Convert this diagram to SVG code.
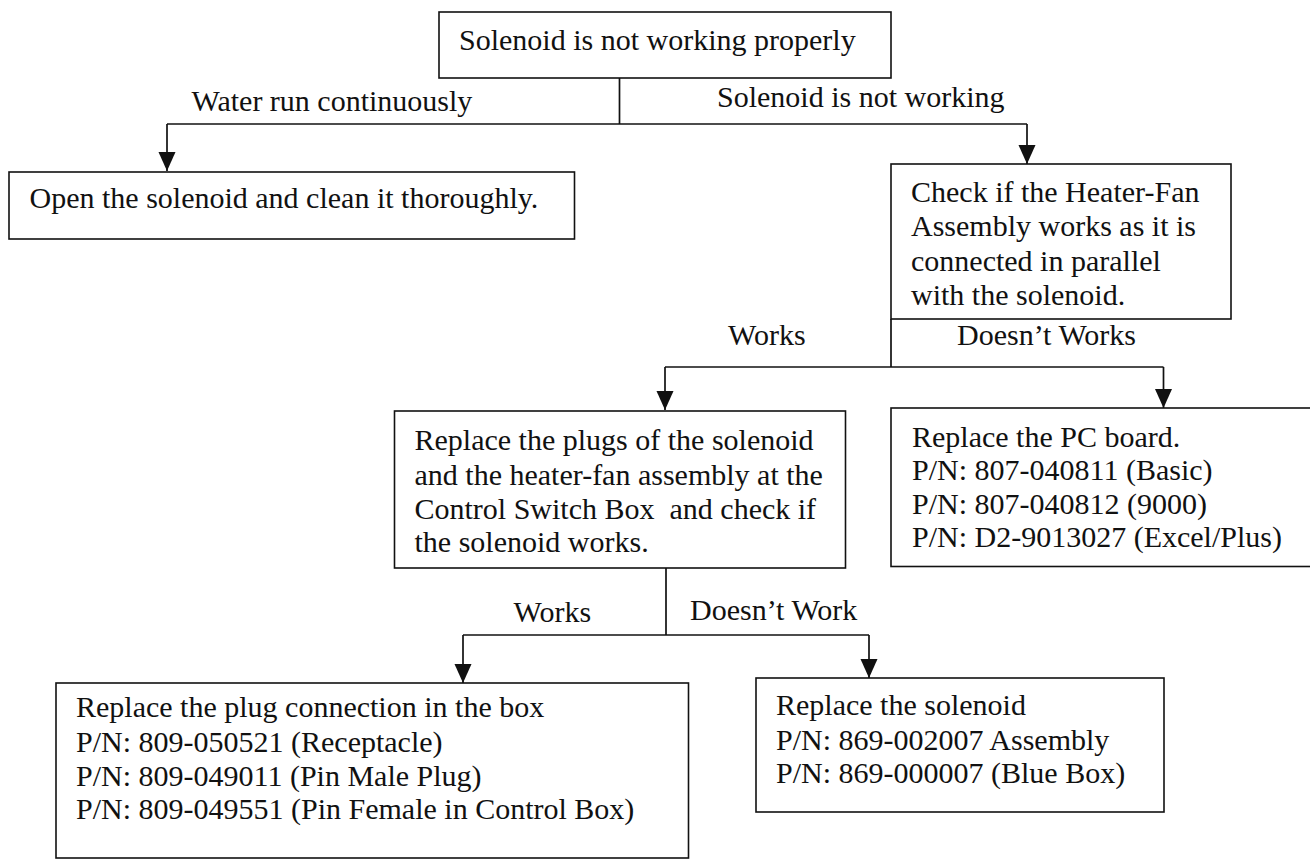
<svg xmlns="http://www.w3.org/2000/svg" width="1310" height="862" viewBox="0 0 1310 862">
  <style>
    .box { fill: #ffffff; stroke: #111111; stroke-width: 1.6; }
    .t { font-family: "Liberation Serif", "Times New Roman", serif; font-size: 30px; fill: #111111; white-space: pre; }
    .conn { fill: none; stroke: #111111; stroke-width: 1.7; }
  </style>
  <defs>
    <marker id="arrow" markerUnits="userSpaceOnUse" markerWidth="20" markerHeight="18" refX="19" refY="8.5" orient="auto">
      <path d="M0,0 L19,8.5 L0,17 z" fill="#111111"/>
    </marker>
  </defs>
  <rect width="1310" height="862" fill="#ffffff"/>

  <g id="connectors">
    <path class="conn" d="M619.5,78 V124"/>
    <path class="conn" d="M167,124 H1027"/>
    <path class="conn" d="M167,124 V171" marker-end="url(#arrow)"/>
    <path class="conn" d="M1027,124 V164" marker-end="url(#arrow)"/>
    <path class="conn" d="M891,319 V367"/>
    <path class="conn" d="M665,367 H1163.5"/>
    <path class="conn" d="M665,367 V410" marker-end="url(#arrow)"/>
    <path class="conn" d="M1163.5,367 V408" marker-end="url(#arrow)"/>
    <path class="conn" d="M666,568 V635"/>
    <path class="conn" d="M463,635 H869"/>
    <path class="conn" d="M463,635 V683" marker-end="url(#arrow)"/>
    <path class="conn" d="M869,635 V678" marker-end="url(#arrow)"/>
  </g>

  <g id="edge-labels">
    <text class="t" x="191.5" y="111">Water run continuously</text>
    <text class="t" x="717" y="107">Solenoid is not working</text>
    <text class="t" x="728" y="345">Works</text>
    <text class="t" x="957" y="345">Doesn’t Works</text>
    <text class="t" x="513.5" y="621.5">Works</text>
    <text class="t" x="690" y="620">Doesn’t Work</text>
  </g>

  <g id="node-start">
    <rect class="box" x="439" y="12" width="452" height="66"/>
    <text class="t" x="459" y="50">Solenoid is not working properly</text>
  </g>

  <g id="node-clean">
    <rect class="box" x="9" y="172" width="565.5" height="67"/>
    <text class="t" x="29.5" y="208">Open the solenoid and clean it thoroughly.</text>
  </g>

  <g id="node-check-heater">
    <rect class="box" x="891" y="164" width="340" height="155"/>
    <text class="t" x="911" y="201.5">Check if the Heater-Fan</text>
    <text class="t" x="911" y="236">Assembly works as it is</text>
    <text class="t" x="911" y="270.5">connected in parallel</text>
    <text class="t" x="911" y="305">with the solenoid.</text>
  </g>

  <g id="node-replace-plugs">
    <rect class="box" x="394.5" y="411" width="451" height="157"/>
    <text class="t" x="414.5" y="450">Replace the plugs of the solenoid</text>
    <text class="t" x="414.5" y="484.5">and the heater-fan assembly at the</text>
    <text class="t" x="414.5" y="518.5" xml:space="preserve">Control Switch Box  and check if</text>
    <text class="t" x="414.5" y="552">the solenoid works.</text>
  </g>

  <g id="node-pc-board">
    <rect class="box" x="891" y="408" width="430" height="158.5"/>
    <text class="t" x="912" y="446.5">Replace the PC board.</text>
    <text class="t" x="912" y="480">P/N: 807-040811 (Basic)</text>
    <text class="t" x="912" y="513.5">P/N: 807-040812 (9000)</text>
    <text class="t" x="912" y="547">P/N: D2-9013027 (Excel/Plus)</text>
  </g>

  <g id="node-plug-connection">
    <rect class="box" x="56" y="683" width="632.5" height="175"/>
    <text class="t" x="76" y="717">Replace the plug connection in the box</text>
    <text class="t" x="76" y="752">P/N: 809-050521 (Receptacle)</text>
    <text class="t" x="76" y="786">P/N: 809-049011 (Pin Male Plug)</text>
    <text class="t" x="76" y="819">P/N: 809-049551 (Pin Female in Control Box)</text>
  </g>

  <g id="node-replace-solenoid">
    <rect class="box" x="756" y="678" width="408" height="134"/>
    <text class="t" x="776" y="715">Replace the solenoid</text>
    <text class="t" x="776" y="749.5">P/N: 869-002007 Assembly</text>
    <text class="t" x="776" y="783">P/N: 869-000007 (Blue Box)</text>
  </g>
</svg>
